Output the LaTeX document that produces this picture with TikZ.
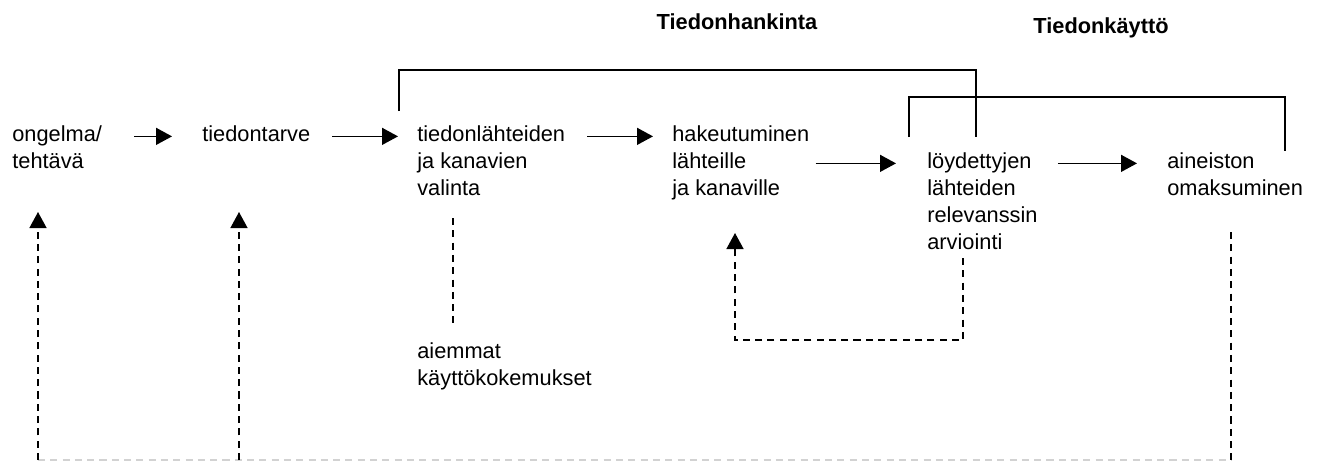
\documentclass[tikz,border=0pt]{standalone}
\usepackage{fontspec}
\setmainfont{Liberation Sans}
\usepackage{tikz}
\usetikzlibrary{arrows.meta}

\newcommand{\rows}[1]{\begin{tabular}[t]{@{}l@{}}#1\end{tabular}}

\tikzset{
	stage/.style={anchor=base west,inner sep=0pt,font=\fontsize{12.4}{15.4}\selectfont},
	phase/.style={anchor=base,inner sep=0pt,font=\fontsize{12.4}{15.4}\selectfont\bfseries},
	flow/.style={line width=0.8pt,-{Triangle[length=0.32cm,width=0.34cm]}},
	back/.style={line width=0.8pt,dash pattern=on 4pt off 3pt},
	span/.style={line width=0.8pt}
}

\begin{document}
\begin{tikzpicture}[x=0.02cm,y=-0.02cm]
		\useasboundingbox (0,0) rectangle (1320,461);

		% >>> stages
		\node[stage] (ong) at (12,141) {\rows{ongelma/\\tehtävä}};
		\node[stage] (tdt) at (202,141) {tiedontarve};
		\node[stage] (tkv) at (417,141) {\rows{tiedonlähteiden\\ja kanavien\\valinta}};
		\node[stage] (hak) at (672,141) {\rows{hakeutuminen\\lähteille\\ja kanaville}};
		\node[stage] (loy) at (927,168) {\rows{löydettyjen\\lähteiden\\relevanssin\\arviointi}};
		\node[stage] (ain) at (1167,168) {\rows{aineiston\\omaksuminen}};
		\node[stage] (aiem) at (417,358) {\rows{aiemmat\\käyttökokemukset}};
		% <<< stages

		% >>> phases
		\node[phase] (hank) at (737,29) {Tiedonhankinta};
		\node[phase] (kay) at (1101,33) {Tiedonkäyttö};
		\draw[span] (399,111) -- (399,70) -- (976,70) -- (976,137);
		\draw[span] (909,137) -- (909,97) -- (1285,97) -- (1285,151);
		% <<< phases

		% >>> flow
		\draw[flow,shorten <=0.64cm,shorten >=0.6cm] (ong.mid east) -- (tdt.mid west);
		\draw[flow,shorten <=0.44cm,shorten >=0.38cm] (tdt.mid east) -- (tkv.mid west);
		\draw[flow,shorten <=0.44cm,shorten >=0.38cm] (tkv.mid east) -- (hak.mid west);
		\draw[flow,shorten <=0.12cm,shorten >=0.62cm] (hak.east |- loy.mid) -- (loy.mid west);
		\draw[flow,shorten <=0.4cm,shorten >=0.6cm] (loy.east |- ain.mid) -- (ain.mid west);
		% <<< flow

		% >>> feedback
		\draw[back] (453,218) -- (453,327);
		\draw[back,-{Triangle[length=0.32cm,width=0.34cm]}] (963,258) -- (963,340) -- (735,340) -- (735,233);
		\draw[gray!35,line width=0.8pt,dash pattern=on 4pt off 3pt] (38,460) -- (1231,460);
		\draw[back] (1231,232) -- (1231,460);
		\draw[back,-{Triangle[length=0.32cm,width=0.34cm]}] (38,460) -- (38,212);
		\draw[back,-{Triangle[length=0.32cm,width=0.34cm]}] (239,460) -- (239,212);
		% <<< feedback
\end{tikzpicture}
\end{document}
